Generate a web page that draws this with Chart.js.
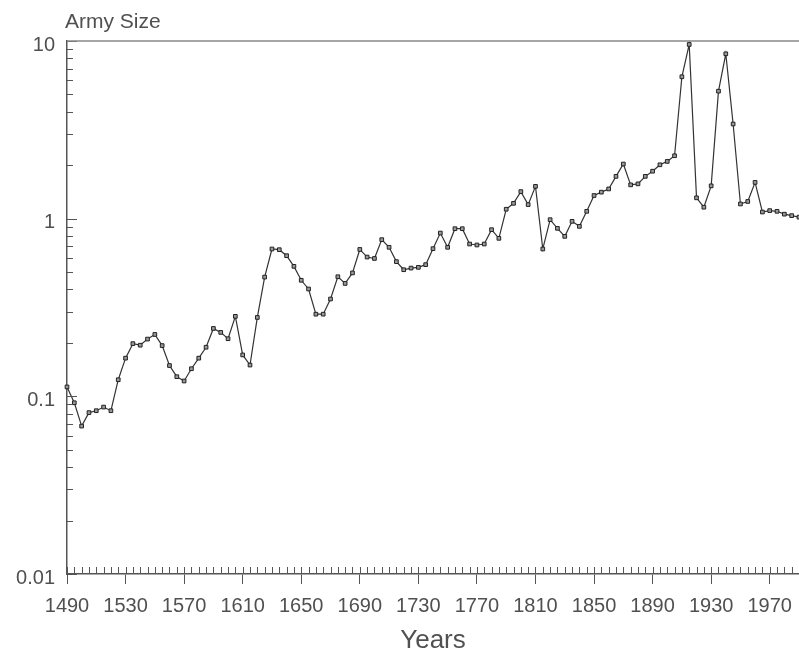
<!DOCTYPE html>
<html>
<head>
<meta charset="utf-8">
<script src="https://cdn.jsdelivr.net/npm/chart.js@4"></script>
<style>
  html, body { margin: 0; padding: 0; background: #fff; }
  #wrap { width: 799px; height: 655px; }
</style>
</head>
<body>
<div id="wrap"><canvas id="army"></canvas></div>
<script>
'use strict';

const years = [];
for (let y = 1490; y <= 1990; y += 5) years.push(y);

const armySize = [
    0.113, 0.092, 0.068, 0.081, 0.083, 0.087, 0.083, 0.124, 0.164, 0.198,
    0.194, 0.21, 0.223, 0.193, 0.149, 0.129, 0.122, 0.143, 0.164, 0.189,
    0.241, 0.229, 0.211, 0.282, 0.171, 0.150, 0.278, 0.469, 0.675, 0.669,
    0.619, 0.539, 0.45, 0.402, 0.29, 0.29, 0.353, 0.471, 0.432, 0.495,
    0.671, 0.608, 0.597, 0.762, 0.69, 0.573, 0.516, 0.527, 0.532, 0.551,
    0.678, 0.83, 0.69, 0.878, 0.878, 0.72, 0.711, 0.72, 0.867, 0.775,
    1.13, 1.22, 1.42, 1.2, 1.52, 0.675, 0.987, 0.882, 0.795, 0.966,
    0.905, 1.1, 1.35, 1.41, 1.47, 1.73, 2.03, 1.55, 1.57, 1.73,
    1.85, 2.01, 2.1, 2.26, 6.29, 9.56, 1.31, 1.16, 1.53, 5.22,
    8.47, 3.41, 1.21, 1.25, 1.60, 1.09, 1.11, 1.10, 1.06, 1.04,
    1.02
];

const xTicks = [1490, 1530, 1570, 1610, 1650, 1690, 1730, 1770, 1810, 1850, 1890, 1930, 1970];
const yTicks = [0.01, 0.1, 1, 10];
const yTickLabels = ['0.01', '0.1', '1', '10'];

const textColor = '#505050';
const axisColor = '#555';
const fontFamily = '"Liberation Sans", Arial, sans-serif';

// little ticks drawn inside the plot, plus the top frame and the y title
const frameTicks = {
    id: 'frameTicks',
    afterDraw(chart) {
        const { ctx, chartArea: a } = chart;
        const xs = chart.scales.x;
        const ys = chart.scales.y;
        ctx.save();
        ctx.strokeStyle = axisColor;
        ctx.lineWidth = 1;

        // x minor ticks, every 5 years, pointing up
        for (let yr = 1490; yr <= 1990; yr += 5) {
            const px = Math.round(xs.getPixelForValue(yr)) + 0.5;
            ctx.beginPath();
            ctx.moveTo(px, a.bottom);
            ctx.lineTo(px, a.bottom - 7);
            ctx.stroke();
        }

        // y log ticks pointing right
        for (let d = 0.01; d < 10; d *= 10) {
            for (let m = 1; m <= 10; m++) {
                const v = d * m;
                if (v > 10.0001) continue;
                const py = Math.round(ys.getPixelForValue(v)) + 0.5;
                const len = (m === 1 || m === 10) ? 10 : 6;
                ctx.beginPath();
                ctx.moveTo(a.left, py);
                ctx.lineTo(a.left + len, py);
                ctx.stroke();
            }
        }

        // top frame
        ctx.strokeStyle = '#888';
        ctx.lineWidth = 1.5;
        ctx.beginPath();
        ctx.moveTo(a.left, a.top);
        ctx.lineTo(a.right, a.top);
        ctx.stroke();

        // y axis title
        ctx.fillStyle = textColor;
        ctx.font = '21px ' + fontFamily;
        ctx.textBaseline = 'middle';
        ctx.textAlign = 'left';
        ctx.fillText('Army Size', 65, 22);
        ctx.restore();
    }
};

new Chart(document.getElementById('army'), {
    type: 'line',
    data: {
        datasets: [{
            data: years.map((y, i) => ({ x: y, y: armySize[i] })),
            borderColor: '#333',
            borderWidth: 1.2,
            pointStyle: 'rect',
            pointRadius: 2.6,
            pointBorderWidth: 1,
            pointBorderColor: '#222',
            pointBackgroundColor: '#999',
            tension: 0,
            clip: false
        }]
    },
    options: {
        responsive: true,
        maintainAspectRatio: false,
        animation: false,
        layout: { autoPadding: false, padding: { top: 41, right: 0, bottom: 0, left: 0 } },
        plugins: {
            legend: { display: false },
            tooltip: { enabled: false }
        },
        scales: {
            x: {
                type: 'linear',
                min: 1490,
                max: 1990,
                afterBuildTicks: (scale) => { scale.ticks = xTicks.map(v => ({ value: v })); },
                afterFit: (scale) => {
                    scale.height = 81;
                    scale.paddingRight = 0;
                    scale.paddingLeft = 0;
                },
                ticks: {
                    autoSkip: false,
                    maxRotation: 0,
                    padding: 10,
                    color: textColor,
                    font: { family: fontFamily, size: 20 },
                    callback: (v) => String(v)
                },
                grid: { drawOnChartArea: false, drawTicks: true, tickLength: 10, color: axisColor },
                border: { display: true, color: axisColor, width: 1.5 },
                title: {
                    display: true,
                    text: 'Years',
                    color: textColor,
                    font: { family: fontFamily, size: 26, lineHeight: 1 },
                    padding: { top: 0, bottom: 1 }
                }
            },
            y: {
                type: 'logarithmic',
                min: 0.01,
                max: 10,
                afterBuildTicks: (scale) => { scale.ticks = yTicks.map(v => ({ value: v })); },
                afterFit: (scale) => { scale.width = 67; },
                ticks: {
                    padding: 12,
                    labelOffset: 4,
                    color: textColor,
                    font: { family: fontFamily, size: 20 },
                    callback: (v) => yTickLabels[yTicks.indexOf(v)] ?? ''
                },
                grid: { drawOnChartArea: false, drawTicks: false },
                border: { display: true, color: axisColor, width: 1.5 }
            }
        }
    },
    plugins: [frameTicks]
});
</script>
</body>
</html>
